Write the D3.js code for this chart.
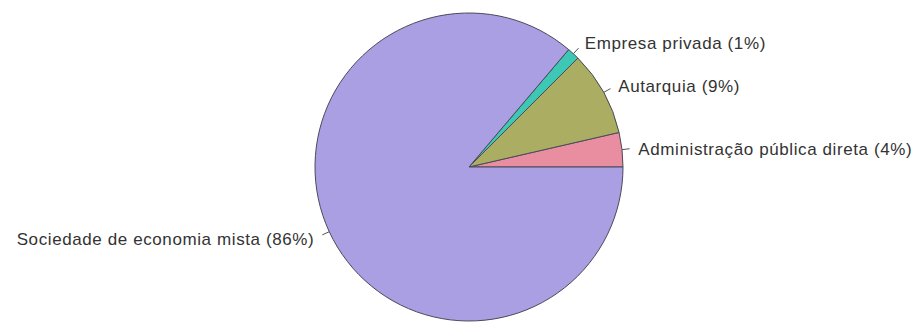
<!DOCTYPE html>
<html>
<head>
<meta charset="utf-8">
<script src="https://cdn.jsdelivr.net/npm/d3@7"></script>
<style>
  body { margin: 0; background: #fff; }
  text { font-family: "Liberation Sans", Arial, sans-serif; fill: #333; }
</style>
</head>
<body>
<div id="chart"></div>
<script>
// categories in drawing order (counter-clockwise from 3 o'clock, like R's pie())
var categories = ["Administração pública direta", "Autarquia", "Empresa privada", "Sociedade de economia mista"];
var shares = [3.6, 8.9, 1.3, 86.2];
var labels = ["Administração pública direta (4%)", "Autarquia (9%)", "Empresa privada (1%)", "Sociedade de economia mista (86%)"];
var colors = ["#e98ea0", "#aaad62", "#3dc8b6", "#a99fe2"];

var width = 915, height = 322;
var cx = 469, cy = 167, radius = 154;

var svg = d3.select("#chart").append("svg")
    .attr("width", width)
    .attr("height", height);

var g = svg.append("g").attr("transform", "translate(" + cx + "," + cy + ")");

// d3 angles go clockwise from 12 o'clock; R goes counter-clockwise from 3 o'clock
var pie = d3.pie().sort(null)
    .startAngle(Math.PI / 2)
    .endAngle(Math.PI / 2 - 2 * Math.PI);

var arcs = pie(shares);
var arc = d3.arc().innerRadius(0).outerRadius(radius);

g.selectAll("path.slice")
    .data(arcs)
    .enter()
    .append("path")
    .attr("class", "slice")
    .attr("d", arc)
    .style("fill", function(d, i){ return colors[i]; })
    .style("stroke", "#4a4a5a")
    .style("stroke-width", 1);

function pointAt(a, r){
    // a is a d3 angle (clockwise from top)
    return [r * Math.sin(a), -r * Math.cos(a)];
}

arcs.forEach(function(d, i){
    var mid = (d.startAngle + d.endAngle) / 2;
    var p0 = pointAt(mid, radius),
        p1 = pointAt(mid, radius * 1.05),
        p2 = pointAt(mid, radius * 1.1);

    g.append("line")
        .attr("x1", p0[0]).attr("y1", p0[1])
        .attr("x2", p1[0]).attr("y2", p1[1])
        .style("stroke", "#555")
        .style("stroke-width", 1);

    g.append("text")
        .attr("x", p2[0] + (p2[0] > 0 ? 1 : -1))
        .attr("y", p2[1] + 1)
        .attr("dy", "0.35em")
        .attr("text-anchor", p2[0] > 0 ? "start" : "end")
        .style("font-size", "17px")
        .style("letter-spacing", "0.6px")
        .text(labels[i]);
});
</script>
</body>
</html>
